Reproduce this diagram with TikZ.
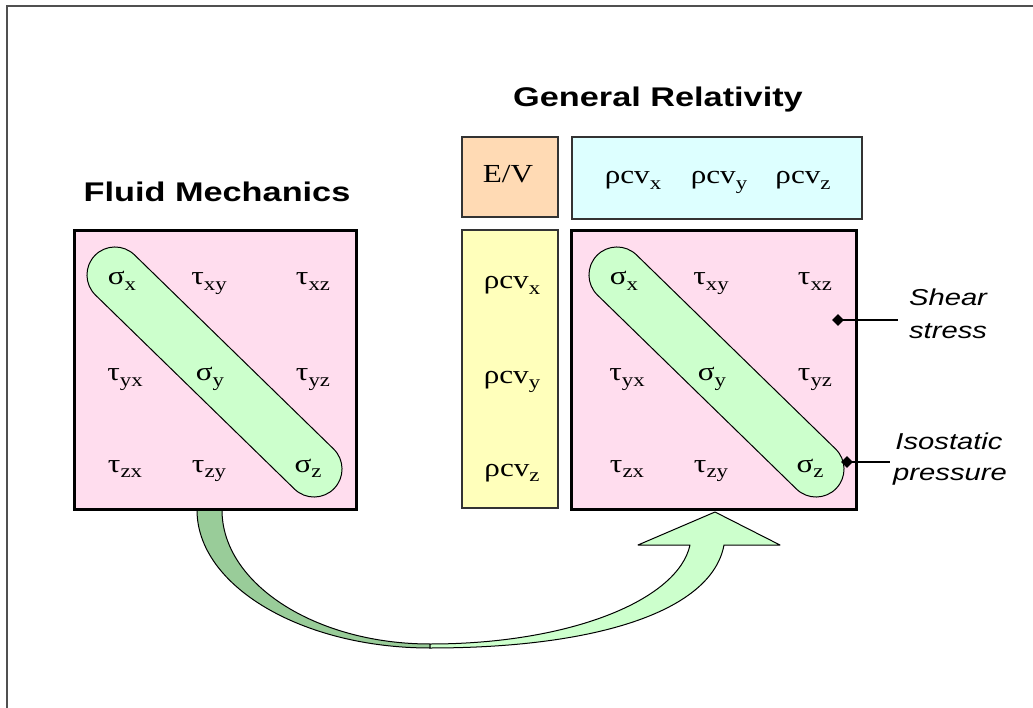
\documentclass[tikz,border=0pt]{standalone}
\usepackage{fontspec}
\usepackage{graphicx}
\setmainfont{Liberation Serif}
\newfontfamily\arialf{Liberation Sans}
\usetikzlibrary{calc,shapes.geometric}
\newcommand{\wideT}[1]{\scalebox{1.27}[1]{#1}}
\newcommand{\wideE}[1]{\scalebox{1.2}[1]{#1}}
\newcommand{\mysub}[1]{\raisebox{-0.22em}{\fontsize{19}{19}\selectfont #1}}
\definecolor{pinkf}{HTML}{FFDDEE}
\definecolor{pillg}{HTML}{CCFFCC}
\definecolor{yelf}{HTML}{FFFFBB}
\definecolor{peachf}{HTML}{FFDAB4}
\definecolor{cyanf}{HTML}{DDFFFF}
\definecolor{darkg}{HTML}{99CC99}
\definecolor{framec}{HTML}{505050}
\tikzset{
  matbox/.style={draw=black, line width=3pt, fill=pinkf, inner sep=0, rectangle},
  thinbox/.style={draw=black!80, line width=1.5pt, inner sep=0, rectangle},
  pill/.style={draw=black, line width=1pt, fill=pillg, rectangle, rounded corners=28pt, inner sep=0, minimum height=56pt, minimum width=334pt, rotate=-44.27},
  ent/.style={anchor=base, font=\fontsize{26}{26}\selectfont, inner sep=0},
  ttl/.style={anchor=base, font=\arialf\bfseries\fontsize{27}{27}\selectfont, inner sep=0},
  lab/.style={anchor=base, font=\arialf\itshape\fontsize{23}{23}\selectfont, inner sep=0},
  dotn/.style={diamond, fill=black, inner sep=0, minimum size=12pt},
  arrowline/.style={draw=black, line width=1pt, line join=round},
}
\begin{document}
\begin{tikzpicture}[x=1pt,y=-1pt]
\useasboundingbox (0,0) rectangle (1033,708);
\fill[white] (0,0) rectangle (1033,708);
\draw[framec, line width=2pt] (7,708) -- (7,6) -- (1033,6);

% curved arrow
\path[arrowline, fill=darkg] (197,510) .. controls (197,586) and (302,648) .. (430,648)
  -- (430,644) .. controls (316,644) and (222,584) .. (222,510) -- cycle;
\path[arrowline, fill=pillg] (430,648) .. controls (600,648) and (712,610) .. (724,545)
  -- (780,545) -- (715,512) -- (638,545) -- (690,545)
  .. controls (678,600) and (570,644) .. (430,644) -- cycle;

% boxes
\node[matbox, minimum width=282pt, minimum height=278pt] (lm) at (215,370) {};
\node[matbox, minimum width=285pt, minimum height=278pt] (rm) at (713.5,370) {};
\node[thinbox, fill=peachf, minimum width=96pt, minimum height=80pt] (ev) at (510,177) {};
\node[thinbox, fill=cyanf, minimum width=290pt, minimum height=82pt] (cy) at (717,178) {};
\node[thinbox, fill=yelf, minimum width=96pt, minimum height=278pt] (ye) at (510,369) {};

% pills
\node[pill] (lp) at (214.5,372) {};
\node[pill] (rp) at (716.5,372) {};

% titles
\node[ttl] (tfm) at (217,202) {\wideT{Fluid Mechanics}};
\node[ttl] (tgr) at (658,107) {\wideT{General Relativity}};

% left matrix entries
\node[ent] (l11) at (122,285) {\wideE{σ\mysub{x}}};
\node[ent] (l12) at (209,285) {\wideE{τ\mysub{xy}}};
\node[ent] (l13) at (313,285) {\wideE{τ\mysub{xz}}};
\node[ent] (l21) at (125,381) {\wideE{τ\mysub{yx}}};
\node[ent] (l22) at (210,381) {\wideE{σ\mysub{y}}};
\node[ent] (l23) at (313,381) {\wideE{τ\mysub{yz}}};
\node[ent] (l31) at (125,472) {\wideE{τ\mysub{zx}}};
\node[ent] (l32) at (209,472) {\wideE{τ\mysub{zy}}};
\node[ent] (l33) at (308,472) {\wideE{σ\mysub{z}}};

% right matrix entries
\node[ent] (r11) at (624,285) {\wideE{σ\mysub{x}}};
\node[ent] (r12) at (711,285) {\wideE{τ\mysub{xy}}};
\node[ent] (r13) at (815,285) {\wideE{τ\mysub{xz}}};
\node[ent] (r21) at (627,381) {\wideE{τ\mysub{yx}}};
\node[ent] (r22) at (712,381) {\wideE{σ\mysub{y}}};
\node[ent] (r23) at (815,381) {\wideE{τ\mysub{yz}}};
\node[ent] (r31) at (627,472) {\wideE{τ\mysub{zx}}};
\node[ent] (r32) at (711,472) {\wideE{τ\mysub{zy}}};
\node[ent] (r33) at (810,472) {\wideE{σ\mysub{z}}};

% E/V and momentum entries
\node[ent] (evt) at (508,183) {\wideE{E/V}};
\node[ent] (c1) at (633,184) {\wideE{ρcv\mysub{x}}};
\node[ent] (c2) at (719,184) {\wideE{ρcv\mysub{y}}};
\node[ent] (c3) at (803,184) {\wideE{ρcv\mysub{z}}};
\node[ent] (y1) at (512,289) {\wideE{ρcv\mysub{x}}};
\node[ent] (y2) at (512,383) {\wideE{ρcv\mysub{y}}};
\node[ent] (y3) at (512,476) {\wideE{ρcv\mysub{z}}};

% callouts
\node[dotn] (d1) at (838,320) {};
\coordinate (e1) at (898,320);
\draw[line width=1.4pt] (d1.center) -- (e1);
\node[lab] (s1) at (948,306) {\wideT{Shear}};
\node[lab] (s2) at (948,339) {\wideT{stress}};
\node[dotn] (d2) at (847,462) {};
\coordinate (e2) at (890,462);
\draw[line width=1.4pt] (d2.center) -- (e2);
\node[lab] (i1) at (949,449) {\wideT{Isostatic}};
\node[lab] (i2) at (950,480) {\wideT{pressure}};
\end{tikzpicture}
\end{document}
